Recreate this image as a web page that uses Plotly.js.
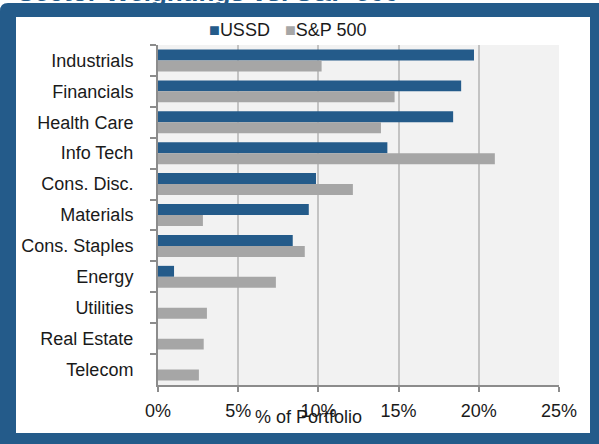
<!DOCTYPE html>
<html>
<head>
<meta charset="utf-8">
<script src="https://cdn.plot.ly/plotly-3.0.1.min.js"></script>
<style>
html,body{margin:0;padding:0;background:#fff;overflow:hidden;}
#chart{width:599px;height:444px;}
</style>
</head>
<body>
<div id="chart"></div>
<script>
// ---- data ----
const sectors = ["Industrials","Financials","Health Care","Info Tech","Cons. Disc.","Materials","Cons. Staples","Energy","Utilities","Real Estate","Telecom"];
const ussd = [19.7, 18.9, 18.4, 14.3, 9.85, 9.4, 8.4, 1.0, 0, 0, 0];
const sp500 = [10.2, 14.75, 13.9, 21.0, 12.15, 2.8, 9.15, 7.35, 3.05, 2.85, 2.55];
const xTickVals = [0, 5, 10, 15, 20, 25];
const xTickText = ["0%", "5%", "10%", "15%", "20%", "25%"];
const seriesNames = ["USSD", "S&P 500"];
const chartTitle = "Sector Weightings vs. S&P 500";
const xTitle = "% of Portfolio";

// ---- layout geometry (pixels) ----
const FW = 599, FH = 444;
const L = 158, R = 559, T = 45, B = 385;
const PW = R - L, PH = B - T;
const px = v => (v - L) / PW;
const py = v => (B - v) / PH;

const blue = "#245b8a";
const grey = "#a6a6a6";
const FONT = "Liberation Sans, Arial, sans-serif";

const framePath =
  "M" + px(0) + "," + py(11) + " Q" + px(0) + "," + py(3) + " " + px(8) + "," + py(3) +
  " L" + px(FW) + "," + py(3) + " L" + px(FW) + "," + py(FH) + " L" + px(0) + "," + py(FH) + " Z" +
  " M" + px(16) + "," + py(17) + " L" + px(590) + "," + py(17) + " L" + px(590) + "," + py(433) +
  " L" + px(16) + "," + py(433) + " Z";

const traces = [
  {type: "bar", orientation: "h", name: seriesNames[0], y: sectors, x: ussd,
   marker: {color: blue, line: {width: 0}}},
  {type: "bar", orientation: "h", name: seriesNames[1], y: sectors, x: sp500,
   marker: {color: grey, line: {width: 0}}}
];

const layout = {
  width: FW, height: FH,
  margin: {l: L, r: FW - R, t: T, b: FH - B, pad: 0},
  paper_bgcolor: "#ffffff",
  plot_bgcolor: "#f2f2f2",
  font: {family: FONT, size: 18, color: "#1a1a1a"},
  showlegend: false,
  barmode: "group",
  bargap: 0.29,
  bargroupgap: 0,
  xaxis: {
    range: [0, 25], tickvals: xTickVals, ticktext: xTickText,
    showgrid: true, gridcolor: "#c3c3c3", gridwidth: 2,
    showline: true, linecolor: "#8c8c8c", linewidth: 2,
    ticks: "outside", ticklen: 5, tickwidth: 2, tickcolor: "#8c8c8c",
    zeroline: false, ticklabelstandoff: 3,
    tickfont: {family: FONT, size: 18, color: "#1a1a1a"}
  },
  yaxis: {
    type: "category", autorange: "reversed", tickson: "boundaries",
    showgrid: false, zeroline: false,
    showline: true, linecolor: "#8c8c8c", linewidth: 2,
    ticks: "outside", ticklen: 6, tickwidth: 2, tickcolor: "#8c8c8c",
    ticklabelstandoff: 19,
    tickfont: {family: FONT, size: 18, color: "#1a1a1a"}
  },
  shapes: [
    {type: "path", xref: "paper", yref: "paper", path: framePath,
     fillcolor: blue, fillrule: "evenodd", line: {width: 0}, layer: "above"}
  ],
  annotations: [
    {xref: "paper", yref: "paper", x: px(15), y: py(9), xanchor: "left", yanchor: "bottom",
     text: "<b>" + chartTitle + "</b>", showarrow: false,
     font: {family: FONT, size: 26, color: blue}},
    {xref: "paper", yref: "paper", x: px(288), y: py(30), xanchor: "center", yanchor: "middle",
     text: "<span style='color:" + blue + "'>■</span>" + seriesNames[0] +
           "&nbsp;&nbsp; <span style='color:" + grey + "'>■</span>" + seriesNames[1],
     showarrow: false, font: {family: FONT, size: 18, color: "#1a1a1a"}},
    {xref: "paper", yref: "paper", x: px(308), y: py(417), xanchor: "center", yanchor: "middle",
     text: xTitle, showarrow: false, font: {family: FONT, size: 18, color: "#1a1a1a"}}
  ]
};

Plotly.newPlot("chart", traces, layout, {displayModeBar: false, staticPlot: true});
</script>
</body>
</html>
